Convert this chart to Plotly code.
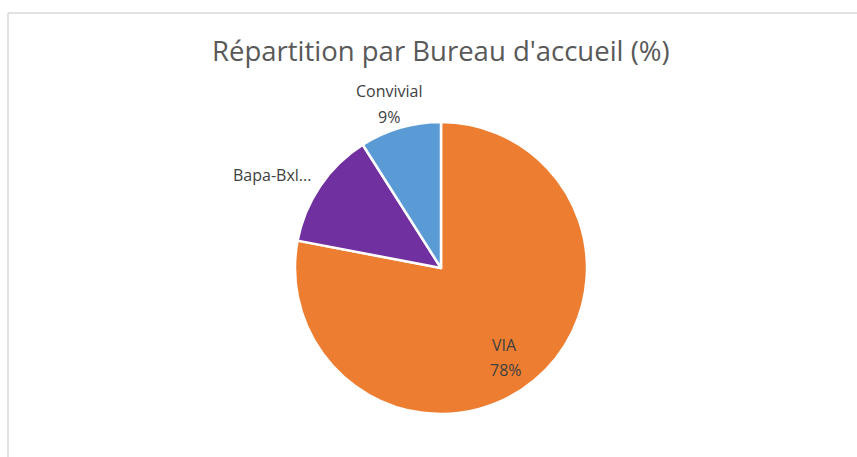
import plotly.graph_objects as go

W, H = 857, 457

title = "Répartition par Bureau d'accueil (%)"
categories = ["VIA", "Bapa-Bxl...", "Convivial"]
values = [78, 13, 9]
colors = ["#ED7D31", "#7030A0", "#5B9BD5"]
show_pct = [True, False, True]

# label positions in pixels (name line, percent line)
label_pos = {
    "VIA": ((505, 345), (506, 370)),
    "Bapa-Bxl...": ((272, 175), None),
    "Convivial": ((389, 91), (389, 117)),
}

def px(x):
    return x / W

def py(y):
    return 1 - y / H

cx, cy, r = 441, 268, 146

fig = go.Figure(go.Pie(
    labels=categories,
    values=values,
    sort=False,
    direction="clockwise",
    rotation=0,
    marker=dict(colors=colors, line=dict(color="white", width=2.5)),
    textinfo="none",
    hoverinfo="label+percent",
    showlegend=False,
    domain=dict(x=[px(cx - r), px(cx + r)], y=[py(cy + r), py(cy - r)]),
))

total = sum(values)
ann = []
font = dict(family="Open Sans", size=16, color="#404040")
for cat, v, sp in zip(categories, values, show_pct):
    p1, p2 = label_pos[cat]
    ann.append(dict(x=px(p1[0]), y=py(p1[1]), xref="paper", yref="paper",
                    text=cat, showarrow=False, font=font,
                    xanchor="center", yanchor="middle"))
    if sp and p2:
        ann.append(dict(x=px(p2[0]), y=py(p2[1]), xref="paper", yref="paper",
                        text=f"{round(100 * v / total)}%", showarrow=False, font=font,
                        xanchor="center", yanchor="middle"))

ann.append(dict(x=px(441), y=py(51), xref="paper", yref="paper", text=title,
                showarrow=False, xanchor="center", yanchor="middle",
                font=dict(family="Open Sans", size=27.5, color="#595959")))

shapes = [
    dict(type="line", xref="paper", yref="paper", x0=px(8), x1=1.0,
         y0=py(13), y1=py(13), line=dict(color="#D9D9D9", width=1.5)),
    dict(type="line", xref="paper", yref="paper", x0=px(8), x1=px(8),
         y0=py(13), y1=0, line=dict(color="#D9D9D9", width=1.5)),
]

fig.update_layout(
    width=W, height=H,
    margin=dict(l=0, r=0, t=0, b=0),
    paper_bgcolor="white",
    plot_bgcolor="white",
    annotations=ann,
    shapes=shapes,
)

fig.write_html("out.html",
               config={"displayModeBar": False},
               post_script="document.body.style.margin='0';document.body.style.overflow='hidden';")
